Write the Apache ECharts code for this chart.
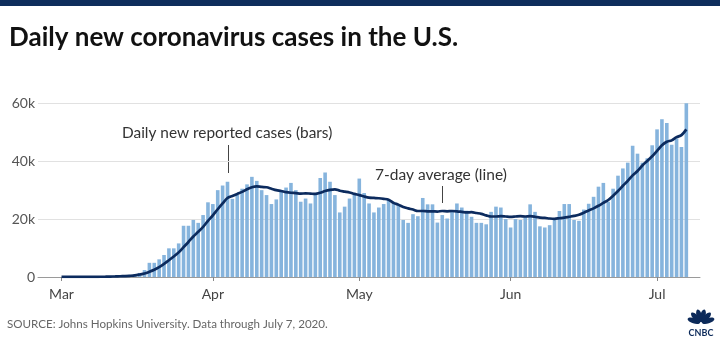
<!DOCTYPE html>
<html>
<head>
<meta charset="utf-8">
<script src="https://cdn.jsdelivr.net/npm/echarts@6/dist/echarts.min.js"></script>
<style>
html,body{margin:0;padding:0;background:#fff;}
#chart{width:720px;height:341px;}
</style>
</head>
<body>
<div id="chart"></div>
<script>
// Day 0 = March 1, 2020
const startDate = '2020-03-01';
const dailyNewCases = [
  10,20,25,30,70,80,100,120,180,290,300,430,550,600,750,900,1400,2400,4900,4900,6100,7600,9900,9900,11600,17700,17700,19700,18700,21400,25800,
  25200,30000,31600,32900,27000,28500,30500,32000,34600,33200,30000,28300,25200,26800,30000,30900,32500,30000,26000,27100,25400,28900,34200,36100,32900,28300,22300,24300,27100,28900,
  34000,29000,25400,22300,24000,25200,26800,26000,25200,19700,18700,21700,21000,27300,25100,25100,18800,21400,20200,22500,25400,24000,22900,20800,18700,18700,18200,22500,24300,24000,20000,
  17100,20000,19700,20800,25100,22500,17500,17100,17900,19900,22800,25200,25200,19700,19400,23300,25300,27700,31200,32500,26000,30500,35000,37500,39500,45300,42600,39500,41000,45500,
  51000,54500,53200,45700,47800,44900,60000
];
const sevenDayAverage = [
  10,15,20,25,30,40,50,60,80,110,150,200,260,330,420,550,850,1200,1800,2500,3400,4500,5800,7100,8500,10300,12100,14000,15600,17300,19400,
  21300,23400,25400,27300,28000,28700,29400,30300,31000,31300,31100,31000,30500,30000,29700,29300,29100,29000,28800,28900,28800,28700,29100,29700,30100,30300,29800,29500,29200,28700,
  28300,27800,27400,27300,27200,27000,26700,25600,25000,24200,23700,23300,22800,22800,22700,22700,22600,22800,22700,22800,22700,22500,22300,22400,22100,21800,21300,20900,20900,21000,20900,
  20800,20900,21000,20900,21000,20800,20500,20400,20200,20100,20300,20500,20800,21100,21500,22200,23000,23700,24600,25600,26600,28100,29700,31500,33200,35100,36600,38500,40100,41700,
  43600,45500,46700,47200,48300,49000,51000
];
const monthTickDays = [0, 31, 61, 92, 122];
const monthTickLabels = ['Mar', 'Apr', 'May', 'Jun', 'Jul'];
const yTickValues = [0, 20000, 40000, 60000];

const chart = echarts.init(document.getElementById('chart'));
const FONT = 'Lato, "Open Sans", sans-serif';
const barData = dailyNewCases.map((v, i) => [i, v]);
const lineData = sevenDayAverage.map((v, i) => [i, v]);

function feather(a) {
  const r = a * Math.PI / 180;
  return {
    type: 'ellipse', x: 701 + 7.5 * Math.sin(r), y: 323 - 7.5 * Math.cos(r), rotation: -r,
    shape: {cx: 0, cy: 0, rx: 2.7, ry: 6.5}, style: {fill: '#0c2a5a'}
  };
}

chart.setOption({
  animation: false,
  grid: {left: 38, right: 20, top: 103.3, bottom: 64, containLabel: false, outerBoundsMode: 'none'},
  xAxis: {
    type: 'value', min: -4.82, max: 130.8,
    splitLine: {show: false},
    axisLine: {show: true, lineStyle: {color: '#9a9a9a', width: 1}},
    axisTick: {show: true, customValues: monthTickDays, length: 4, lineStyle: {color: '#888'}},
    axisLabel: {
      customValues: monthTickDays, margin: 10, color: '#444', fontSize: 14, fontFamily: FONT,
      formatter: v => monthTickLabels[monthTickDays.indexOf(Math.round(v))] || ''
    }
  },
  yAxis: {
    type: 'value', min: 0, max: 60000, interval: 20000,
    axisLine: {show: false}, axisTick: {show: false},
    splitLine: {lineStyle: {color: '#e1e1e1', width: 1}},
    axisLabel: {
      margin: 3, color: '#555', fontSize: 14, fontFamily: FONT,
      formatter: v => yTickValues.includes(v) ? (v === 0 ? '0' : (v / 1000) + 'k') : ''
    }
  },
  series: [
    {type: 'bar', data: barData, barWidth: 3.6, itemStyle: {color: '#86b4dd'}, z: 2},
    {type: 'line', data: lineData, showSymbol: false, symbol: 'none', smooth: 0.3,
     lineStyle: {color: '#0c2b5e', width: 2.7}, z: 3}
  ],
  graphic: [
    {type: 'rect', shape: {x: 0, y: 0, width: 720, height: 6}, style: {fill: '#0e2d5c'}},
    {type: 'text', x: 9, y: 38, style: {text: 'Daily new coronavirus cases in the U.S.', font: 'bold 26px ' + FONT, fill: '#111', verticalAlign: 'middle'}},
    {type: 'text', x: 122, y: 133, style: {text: 'Daily new reported cases (bars)', font: '15.4px ' + FONT, fill: '#333', verticalAlign: 'middle'}},
    {type: 'line', shape: {x1: 228.5, y1: 145, x2: 228.5, y2: 173}, style: {stroke: '#444', lineWidth: 1}},
    {type: 'text', x: 375, y: 175, style: {text: '7-day average (line)', font: '15.5px ' + FONT, fill: '#333', verticalAlign: 'middle'}},
    {type: 'line', shape: {x1: 442.5, y1: 186, x2: 442.5, y2: 203}, style: {stroke: '#444', lineWidth: 1}},
    {type: 'text', x: 7, y: 324, style: {text: 'SOURCE: Johns Hopkins University. Data through July 7, 2020.', font: '11.6px ' + FONT, fill: '#666', verticalAlign: 'middle'}},
    feather(-72), feather(-43), feather(-14), feather(14), feather(43), feather(72),
    {type: 'text', x: 701, y: 333.5, style: {text: 'CNBC', font: 'bold 9px ' + FONT, fill: '#0c2a5a', align: 'center', verticalAlign: 'middle'}}
  ]
});
</script>
</body>
</html>
